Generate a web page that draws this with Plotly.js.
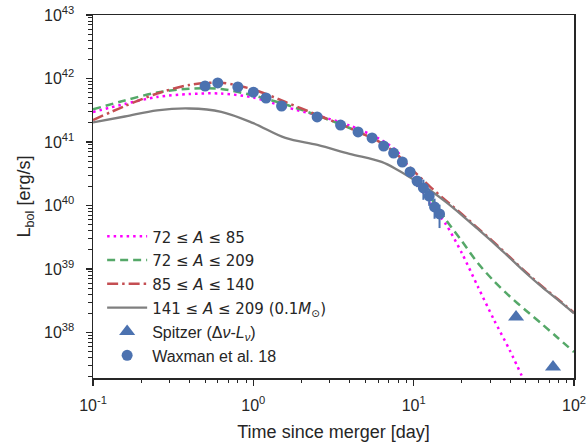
<!DOCTYPE html>
<html>
<head>
<meta charset="utf-8">
<script src="https://cdn.plot.ly/plotly-3.0.1.min.js"></script>
<style>html,body{margin:0;padding:0;background:#fff;}#chart{width:587px;height:445px;}</style>
</head>
<body>
<div id="chart"></div>
<script>
// Model time grid [day]
const tModel = [0.1, 0.158, 0.251, 0.398, 0.631, 1, 1.585, 2.512, 3.981, 6.31, 7.943, 10, 12.59, 15.85, 19.95, 25.12, 31.62, 39.81, 50.12, 63.1, 79.43, 100];
// 72 <= A <= 85
const L_72_85 = [2.97e41, 3.97e41, 5.12e41, 5.70e41, 5.80e41, 5.02e41, 3.56e41, 2.61e41, 1.82e41, 1.07e41, 6.96e40, 2.81e40, 1.09e40, 5.11e39, 1.79e39, 5.3e38, 1.6e38, 5.2e37, 1.5e37];
// 72 <= A <= 209
const L_72_209 = [3.27e41, 4.51e41, 6.02e41, 6.91e41, 6.84e41, 5.40e41, 3.90e41, 2.61e41, 1.66e41, 9.64e40, 6.24e40, 3.02e40, 1.41e40, 6.02e39, 2.76e39, 1.24e39, 6.47e38, 3.69e38, 2.22e38, 1.36e38, 8.19e37, 4.93e37];
// 85 <= A <= 140
const L_85_140 = [2.22e41, 3.69e41, 5.80e41, 7.90e41, 8.59e41, 6.71e41, 4.27e41, 2.66e41, 1.66e41, 9.64e40, 6.24e40, 3.49e40, 2.00e40, 1.20e40, 7.35e39, 4.40e39, 2.64e39, 1.53e39, 8.9e38, 5.35e38, 3.33e38, 2.05e38];
// 141 <= A <= 209 (0.1 Msun)
const L_141_209 = [2.04e41, 2.52e41, 3.15e41, 3.37e41, 2.99e41, 1.98e41, 1.16e41, 8.97e40, 6.52e40, 4.85e40, 3.62e40, 2.55e40, 1.75e40, 1.14e40, 7.08e39, 4.27e39, 2.56e39, 1.49e39, 8.65e38, 5.21e38, 3.25e38, 2.00e38];
// Spitzer
const tSpitzer = [43.5, 74];
const LSpitzer = [1.75e38, 2.86e37];
// Waxman et al. 18
const tWaxman = [0.5, 0.6, 0.8, 1.0, 1.2, 1.5, 2.5, 3.5, 4.5, 5.5, 6.5, 7.5, 8.5, 9.5, 10.5, 11.5, 12.5, 13.5, 14.5];
const LWaxman = [7.62e41, 8.5e41, 7.35e41, 6.1e41, 4.93e41, 3.69e41, 2.48e41, 1.85e41, 1.44e41, 1.16e41, 8.65e40, 6.7e40, 4.84e40, 3.37e40, 2.43e40, 1.89e40, 1.41e40, 9.5e39, 7.35e39];
const relErrWaxman = [0.1, 0.12, 0.1, 0.1, 0.1, 0.1, 0.1, 0.1, 0.1, 0.1, 0.1, 0.1, 0.1, 0.15, 0.2, 0.35, 0.3, 0.35, 0.4];
// Tick labels
const xTickVals = [0.1, 1, 10, 100];
const xTickText = ['10<sup>-1</sup>', '10<sup>0</sup>', '10<sup>1</sup>', '10<sup>2</sup>'];
const yTickVals = [1e38, 1e39, 1e40, 1e41, 1e42, 1e43];
const yTickText = ['10<sup>38</sup>', '10<sup>39</sup>', '10<sup>40</sup>', '10<sup>41</sup>', '10<sup>42</sup>', '10<sup>43</sup>'];
const names = [
  '<span style="font-family:DejaVu Sans;font-size:15px">72 ≤ <i>A</i> ≤ 85</span>',
  '<span style="font-family:DejaVu Sans;font-size:15px">72 ≤ <i>A</i> ≤ 209</span>',
  '<span style="font-family:DejaVu Sans;font-size:15px">85 ≤ <i>A</i> ≤ 140</span>',
  '<span style="font-family:DejaVu Sans;font-size:15px">141 ≤ <i>A</i> ≤ 209 (0.1<i>M</i><sub>⊙</sub>)</span>',
  'Spitzer (Δ<i>ν</i>-<i>L</i><sub><i>ν</i></sub>)',
  'Waxman et al. 18'
];

function minorTicks(lo, hi) {
  const out = [];
  for (let e = lo; e < hi; e++) for (let m = 2; m <= 9; m++) out.push(m * Math.pow(10, e));
  return out;
}

const traces = [
  {x: tModel.slice(0, L_72_85.length), y: L_72_85, mode: 'lines', name: names[0],
   line: {color: '#FF00FF', width: 2.5, dash: '2.5px,4px', shape: 'spline', smoothing: 0.8}},
  {x: tModel, y: L_72_209, mode: 'lines', name: names[1],
   line: {color: '#55A868', width: 2.5, dash: '8px,5px', shape: 'spline', smoothing: 0.8}},
  {x: tModel, y: L_85_140, mode: 'lines', name: names[2],
   line: {color: '#C44E52', width: 2.5, dash: '11px,4px,2.5px,4px', shape: 'spline', smoothing: 0.8}},
  {x: tModel, y: L_141_209, mode: 'lines', name: names[3],
   line: {color: '#7F7F7F', width: 2.3, shape: 'spline', smoothing: 1}},
  {x: tSpitzer, y: LSpitzer, mode: 'markers', name: names[4],
   marker: {symbol: 'triangle-up', size: 14, color: '#4C72B0'}},
  {x: tWaxman, y: LWaxman, mode: 'markers', name: names[5],
   marker: {symbol: 'circle', size: 11, color: '#4C72B0'},
   error_y: {type: 'data', symmetric: true, array: LWaxman.map((v, i) => v * relErrWaxman[i]),
             color: '#4C72B0', thickness: 2, width: 0}}
];

const axisCommon = {
  type: 'log', showgrid: false, zeroline: false, showline: true, mirror: true,
  linecolor: '#262626', linewidth: 1.5, ticks: 'outside', ticklen: 6, tickwidth: 1.2,
  tickcolor: '#262626', tickmode: 'array',
  tickfont: {family: 'Liberation Sans, Arial, sans-serif', size: 16, color: '#262626'}
};

const layout = {
  width: 587, height: 445,
  margin: {l: 93, r: 13, t: 15, b: 67},
  paper_bgcolor: '#ffffff', plot_bgcolor: '#ffffff',
  font: {family: 'Liberation Sans, Arial, sans-serif', color: '#262626'},
  showlegend: true,
  legend: {x: 0.019, y: 0.437, xanchor: 'left', yanchor: 'top', bgcolor: 'rgba(0,0,0,0)',
           font: {size: 16, color: '#262626'}, tracegroupgap: 0, itemwidth: 40},
  xaxis: Object.assign({}, axisCommon, {
    range: [-1, 2], tickvals: xTickVals, ticktext: xTickText, ticklabelstandoff: 6,
    minor: {tickmode: 'array', tickvals: minorTicks(-1, 2), ticks: 'outside', ticklen: 3.5, tickwidth: 1, tickcolor: '#262626'},
    title: {text: 'Time since merger [day]', font: {size: 18, color: '#262626'}, standoff: 12}
  }),
  yaxis: Object.assign({}, axisCommon, {
    range: [37.283, 43], tickvals: yTickVals, ticktext: yTickText, ticklabelstandoff: 8,
    minor: {tickmode: 'array', tickvals: minorTicks(37, 43), ticks: 'outside', ticklen: 3.5, tickwidth: 1, tickcolor: '#262626'},
    title: {text: 'L<sub>bol</sub> [erg/s]', font: {size: 18, color: '#262626'}, standoff: 8}
  })
};

traces.forEach((t, i) => { t.legendgroup = 'g' + i; });

Plotly.newPlot('chart', traces, layout, {displayModeBar: false, staticPlot: true});
</script>
</body>
</html>
